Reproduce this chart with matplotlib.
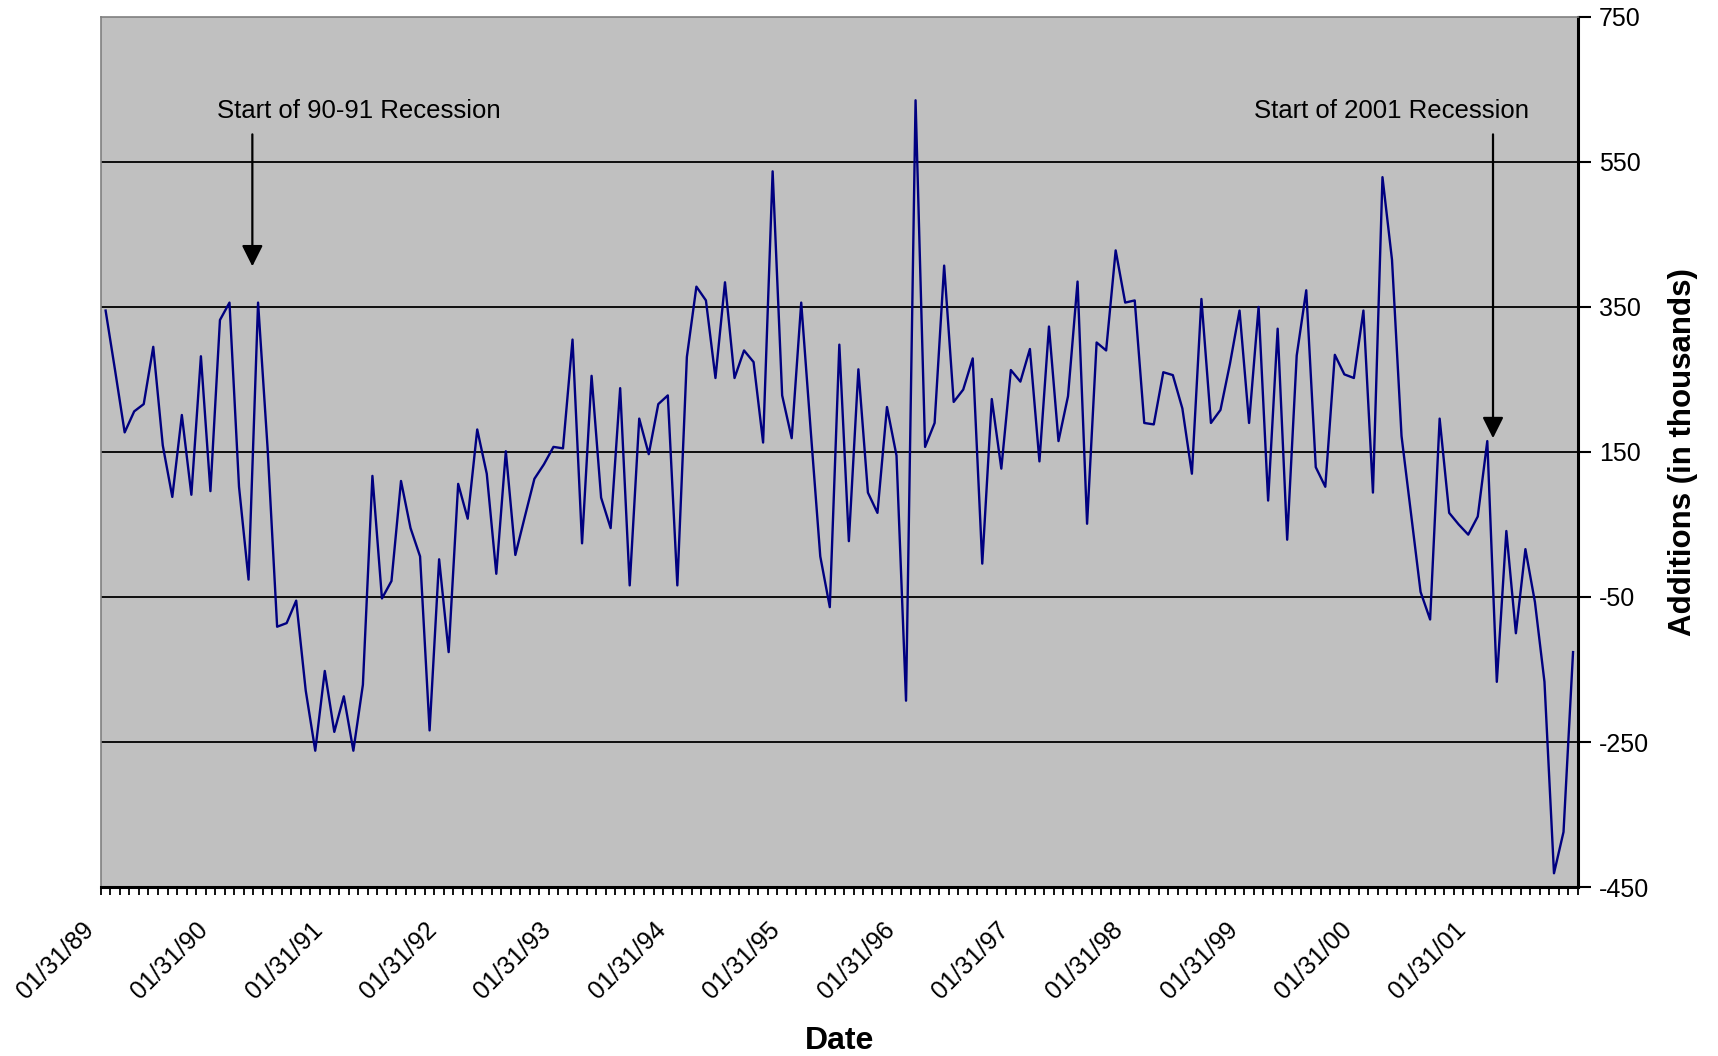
import matplotlib
matplotlib.use("Agg")
import matplotlib.pyplot as plt
import matplotlib.transforms as mtransforms
import numpy as np

# Monthly additions (thousands), Jan 1989 - Dec 2001
additions = [
    345, 262, 177, 206, 216, 295, 159, 88, 201, 91, 282, 96,
    332, 356, 102, -26, 356, 155, -91, -86, -55, -179, -262, -152,
    -236, -187, -262, -171, 117, -52, -28, 110, 45, 6, -234, 2,
    -126, 106, 58, 181, 120, -18, 151, 8, 61, 113, 133, 157,
    155, 305, 24, 255, 87, 45, 238, -34, 196, 147, 216, 228,
    -34, 281, 378, 359, 252, 384, 252, 290, 274, 163, 537, 228,
    169, 356, 179, 6, -64, 298, 27, 264, 94, 66, 212, 145,
    -193, 635, 157, 190, 407, 219, 236, 279, -4, 223, 127, 263,
    247, 292, 137, 323, 165, 227, 385, 51, 301, 290, 428, 356,
    359, 190, 188, 260, 256, 210, 120, 361, 190, 208, 272, 345,
    190, 350, 83, 320, 29, 283, 373, 129, 102, 284, 257, 252,
    345, 94, 529, 415, 172, 65, -43, -81, 196, 66, 50, 36,
    61, 165, -167, 41, -100, 16, -57, -167, -431, -374, -126,
]

date_labels = ["01/31/89", "01/31/90", "01/31/91", "01/31/92", "01/31/93",
               "01/31/94", "01/31/95", "01/31/96", "01/31/97", "01/31/98",
               "01/31/99", "01/31/00", "01/31/01"]
label_index = [0, 12, 24, 36, 48, 60, 72, 84, 96, 108, 120, 132, 144]

y_ticks = [-450, -250, -50, 150, 350, 550, 750]
grid_levels = [-250, -50, 150, 350, 550]

recession_text = ["Start of 90-91 Recession", "Start of 2001 Recession"]
recession_arrow_x = [15.4, 145.6]
recession_arrow_tip = [406, 169]
recession_text_x = [26.6, 134.9]

plt.rcParams["font.family"] = ["Liberation Sans", "DejaVu Sans"]

fig = plt.figure(figsize=(17.18, 10.56), dpi=100)
ax = fig.add_axes([0.0587, 0.160, 0.8597, 0.824])
ax.set_facecolor("#c0c0c0")

n = len(additions)
x = np.arange(n)

for g in grid_levels:
    ax.axhline(g, color="black", lw=1.3, zorder=1)

ax.plot(x, additions, color="#000080", lw=1.7, zorder=3)

ax.set_xlim(-0.5, n - 0.5)
ax.set_ylim(-450, 750)

# y axis on the right
ax.yaxis.tick_right()
ax.yaxis.set_label_position("right")
ax.set_yticks(y_ticks)
ax.set_yticklabels([str(v) for v in y_ticks], fontsize=18)
ax.tick_params(axis="y", which="major", direction="out", length=9, width=1.5,
               pad=6, colors="black")

# x axis: labels at yearly categories, tick marks at every month boundary
ax.set_xticks(label_index)
ax.set_xticklabels(date_labels, rotation=45, ha="right", va="top",
                   rotation_mode="anchor", fontsize=18)
ax.tick_params(axis="x", which="major", length=0, pad=22)
shift = mtransforms.ScaledTranslation(-24 / 100, 0, fig.dpi_scale_trans)
for lbl in ax.get_xticklabels():
    lbl.set_transform(lbl.get_transform() + shift)
ax.set_xticks(np.arange(-0.5, n, 1.0), minor=True)
ax.tick_params(axis="x", which="minor", direction="out", length=6, width=1.3,
               colors="black")

for side in ["top", "left"]:
    ax.spines[side].set_color("#808080")
    ax.spines[side].set_linewidth(1.2)
ax.spines["right"].set_color("black")
ax.spines["right"].set_linewidth(2.2)
ax.spines["bottom"].set_color("black")
ax.spines["bottom"].set_linewidth(2.2)

ax.set_xlabel("Date", fontsize=23, fontweight="bold",
              family=["Liberation Sans Narrow", "Liberation Sans"], labelpad=16)
ax.set_ylabel("Additions (in thousands)", fontsize=22.5, fontweight="bold",
              family=["Liberation Sans Narrow", "Liberation Sans"], labelpad=14,
              rotation=90)

for txt, ax_x, tip, tx in zip(recession_text, recession_arrow_x,
                              recession_arrow_tip, recession_text_x):
    ax.text(tx, 620, txt, fontsize=18.5, ha="center", va="center", zorder=4)
    ax.annotate("", xy=(ax_x, tip), xytext=(ax_x, 588),
                arrowprops=dict(arrowstyle="-|>", color="black", lw=1.6,
                                mutation_scale=32, shrinkA=0, shrinkB=0),
                zorder=4)

fig.savefig("out.png", dpi=100)
